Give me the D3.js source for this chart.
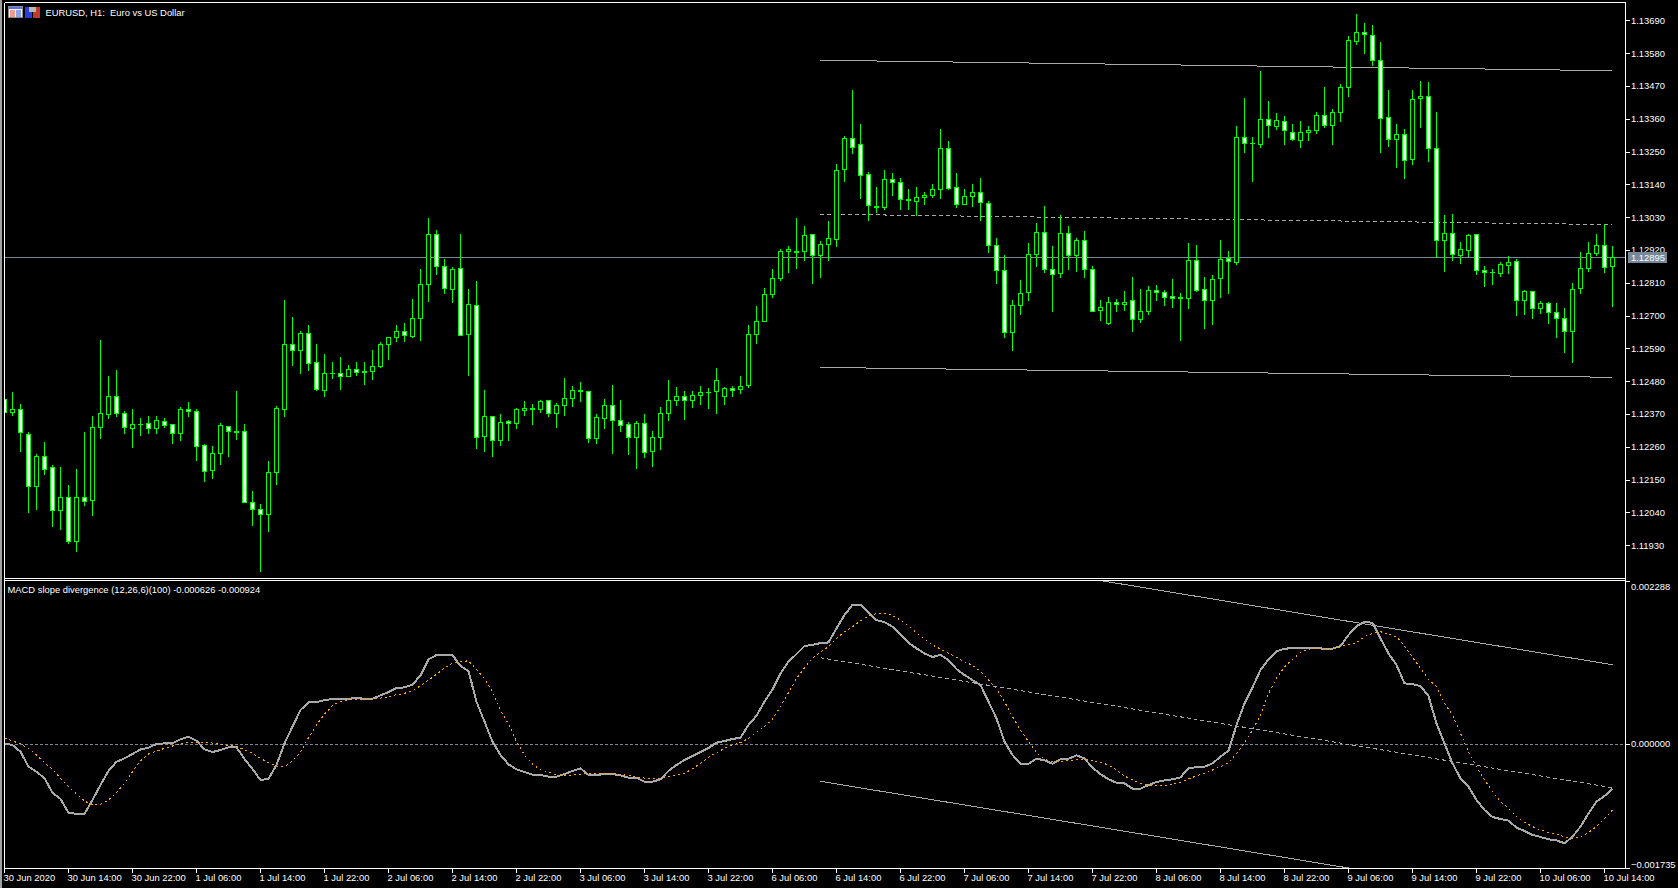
<!DOCTYPE html>
<html><head><meta charset="utf-8">
<script src="https://cdnjs.cloudflare.com/ajax/libs/d3/7.8.5/d3.min.js"></script>
<style>
html,body{margin:0;padding:0;background:#000;overflow:hidden}
svg{display:block}
text{font-family:"Liberation Sans",Arial,sans-serif;font-size:9.4px;fill:#fff}
</style></head><body><svg id="c" width="1678" height="888"></svg>
<script>
const highs=[1.12428,1.12442,1.12403,1.12309,1.12235,1.12275,1.12197,1.12189,1.12130,1.12185,1.12309,1.12360,1.12618,1.12494,1.12517,1.12379,1.12386,1.12356,1.12363,1.12362,1.12356,1.12336,1.12393,1.12407,1.12386,1.12268,1.12261,1.12339,1.12329,1.12447,1.12336,1.12111,1.12068,1.12209,1.12396,1.12749,1.12695,1.12647,1.12668,1.12604,1.12571,1.12544,1.12561,1.12531,1.12541,1.12541,1.12583,1.12610,1.12627,1.12668,1.12672,1.12755,1.12856,1.13027,1.12986,1.12889,1.12862,1.12973,1.12788,1.12815,1.12450,1.12361,1.12369,1.12349,1.12389,1.12413,1.12403,1.12416,1.12416,1.12406,1.12490,1.12463,1.12477,1.12445,1.12369,1.12418,1.12467,1.12416,1.12341,1.12346,1.12369,1.12312,1.12393,1.12483,1.12460,1.12447,1.12447,1.12463,1.12457,1.12524,1.12460,1.12463,1.12494,1.12668,1.12729,1.12792,1.12853,1.12923,1.12933,1.13027,1.13000,1.12972,1.12947,1.13016,1.13205,1.13299,1.13456,1.13339,1.13181,1.13128,1.13188,1.13175,1.13158,1.13124,1.13128,1.13114,1.13141,1.13325,1.13282,1.13175,1.13124,1.13138,1.13161,1.13084,1.12957,1.12900,1.12749,1.12819,1.12943,1.13007,1.13067,1.12930,1.13037,1.13000,1.12960,1.12983,1.12866,1.12752,1.12759,1.12755,1.12779,1.12826,1.12789,1.12796,1.12802,1.12785,1.12822,1.12775,1.12943,1.12936,1.12826,1.12835,1.12953,1.12916,1.13335,1.13429,1.13298,1.13517,1.13419,1.13379,1.13366,1.13339,1.13349,1.13335,1.13382,1.13466,1.13392,1.13476,1.13637,1.13708,1.13678,1.13674,1.13617,1.13453,1.13342,1.13325,1.13453,1.13486,1.13483,1.13382,1.13034,1.13040,1.12946,1.12972,1.12972,1.12866,1.12856,1.12878,1.12898,1.12888,1.12785,1.12781,1.12748,1.12745,1.12742,1.12725,1.12809,1.12913,1.12946,1.12973,1.13006,1.12933];
const opens=[1.12417,1.12374,1.12385,1.12301,1.12127,1.12228,1.12191,1.12047,1.12090,1.11943,1.12090,1.12080,1.12325,1.12369,1.12429,1.12372,1.12322,1.12335,1.12338,1.12322,1.12345,1.12335,1.12305,1.12385,1.12379,1.12265,1.12181,1.12238,1.12328,1.12312,1.12312,1.12073,1.12050,1.12033,1.12174,1.12385,1.12603,1.12583,1.12640,1.12543,1.12449,1.12506,1.12506,1.12496,1.12519,1.12511,1.12513,1.12530,1.12603,1.12627,1.12647,1.12630,1.12690,1.12803,1.12972,1.12865,1.12786,1.12858,1.12635,1.12734,1.12294,1.12361,1.12281,1.12345,1.12338,1.12382,1.12388,1.12385,1.12415,1.12372,1.12398,1.12422,1.12449,1.12445,1.12288,1.12355,1.12398,1.12348,1.12335,1.12291,1.12338,1.12244,1.12291,1.12372,1.12415,1.12429,1.12415,1.12432,1.12442,1.12445,1.12429,1.12456,1.12452,1.12466,1.12637,1.12681,1.12770,1.12825,1.12915,1.12915,1.12915,1.12972,1.12902,1.12939,1.12954,1.13189,1.13294,1.13274,1.13173,1.13066,1.13062,1.13157,1.13147,1.13090,1.13083,1.13096,1.13102,1.13123,1.13261,1.13130,1.13073,1.13100,1.13113,1.13076,1.12935,1.12851,1.12644,1.12734,1.12778,1.12905,1.12979,1.12855,1.12841,1.12976,1.12902,1.12952,1.12855,1.12716,1.12674,1.12744,1.12737,1.12751,1.12687,1.12714,1.12784,1.12778,1.12764,1.12761,1.12758,1.12885,1.12788,1.12751,1.12824,1.12892,1.12878,1.13297,1.13277,1.13274,1.13358,1.13334,1.13351,1.13314,1.13287,1.13314,1.13321,1.13371,1.13338,1.13381,1.13465,1.13619,1.13650,1.13639,1.13556,1.13364,1.13291,1.13307,1.13224,1.13428,1.13435,1.13260,1.12952,1.12975,1.12902,1.12918,1.12972,1.12851,1.12845,1.12841,1.12868,1.12881,1.12751,1.12781,1.12724,1.12741,1.12710,1.12690,1.12647,1.12791,1.12858,1.12908,1.12935,1.12865];
const closes=[1.12374,1.12385,1.12308,1.12127,1.12228,1.12184,1.12047,1.12090,1.11943,1.12090,1.12077,1.12325,1.12372,1.12429,1.12372,1.12325,1.12335,1.12336,1.12322,1.12348,1.12332,1.12305,1.12385,1.12379,1.12261,1.12177,1.12238,1.12332,1.12312,1.12309,1.12073,1.12050,1.12033,1.12174,1.12389,1.12603,1.12583,1.12640,1.12540,1.12452,1.12506,1.12505,1.12496,1.12519,1.12509,1.12509,1.12530,1.12603,1.12627,1.12647,1.12633,1.12691,1.12804,1.12972,1.12863,1.12790,1.12854,1.12633,1.12737,1.12291,1.12361,1.12281,1.12341,1.12338,1.12385,1.12388,1.12385,1.12412,1.12372,1.12398,1.12422,1.12449,1.12446,1.12288,1.12358,1.12398,1.12348,1.12331,1.12291,1.12338,1.12241,1.12291,1.12372,1.12415,1.12429,1.12415,1.12432,1.12442,1.12441,1.12482,1.12456,1.12449,1.12463,1.12637,1.12681,1.12771,1.12825,1.12915,1.12922,1.12912,1.12969,1.12902,1.12939,1.12959,1.13187,1.13294,1.13264,1.13170,1.13069,1.13063,1.13157,1.13147,1.13090,1.13086,1.13096,1.13103,1.13123,1.13261,1.13126,1.13073,1.13100,1.13113,1.13080,1.12935,1.12851,1.12644,1.12734,1.12774,1.12905,1.12979,1.12855,1.12838,1.12976,1.12902,1.12952,1.12855,1.12714,1.12727,1.12744,1.12737,1.12744,1.12687,1.12714,1.12784,1.12778,1.12761,1.12758,1.12758,1.12885,1.12784,1.12751,1.12821,1.12888,1.12881,1.13297,1.13277,1.13276,1.13358,1.13338,1.13354,1.13321,1.13291,1.13314,1.13321,1.13371,1.13338,1.13381,1.13465,1.13623,1.13650,1.13643,1.13556,1.13361,1.13291,1.13307,1.13220,1.13425,1.13435,1.13260,1.12952,1.12975,1.12905,1.12922,1.12969,1.12851,1.12845,1.12844,1.12871,1.12878,1.12751,1.12781,1.12724,1.12741,1.12710,1.12690,1.12647,1.12788,1.12858,1.12908,1.12935,1.12861,1.12895];
const lows=[1.12366,1.12366,1.12243,1.12039,1.12051,1.12168,1.11994,1.11981,1.11937,1.11908,1.12064,1.12031,1.12289,1.12356,1.12360,1.12303,1.12259,1.12299,1.12303,1.12306,1.12323,1.12272,1.12282,1.12360,1.12215,1.12145,1.12152,1.12199,1.12229,1.12286,1.12072,1.11997,1.11843,1.11977,1.12135,1.12360,1.12534,1.12507,1.12517,1.12448,1.12427,1.12490,1.12453,1.12494,1.12500,1.12470,1.12487,1.12526,1.12551,1.12614,1.12614,1.12626,1.12615,1.12748,1.12839,1.12775,1.12745,1.12632,1.12500,1.12255,1.12245,1.12228,1.12265,1.12282,1.12322,1.12366,1.12336,1.12376,1.12363,1.12326,1.12366,1.12396,1.12413,1.12275,1.12272,1.12322,1.12239,1.12312,1.12235,1.12188,1.12225,1.12195,1.12252,1.12349,1.12400,1.12353,1.12393,1.12403,1.12387,1.12373,1.12403,1.12427,1.12440,1.12460,1.12607,1.12680,1.12762,1.12816,1.12846,1.12859,1.12883,1.12806,1.12826,1.12883,1.12933,1.13148,1.13245,1.13091,1.13020,1.13044,1.13057,1.13101,1.13054,1.13054,1.13034,1.13074,1.13097,1.13091,1.13121,1.13061,1.13071,1.13064,1.13020,1.12913,1.12806,1.12628,1.12584,1.12702,1.12749,1.12866,1.12843,1.12712,1.12826,1.12853,1.12849,1.12826,1.12712,1.12682,1.12671,1.12715,1.12718,1.12648,1.12678,1.12705,1.12752,1.12735,1.12728,1.12618,1.12722,1.12779,1.12658,1.12671,1.12759,1.12775,1.12871,1.13248,1.13148,1.13262,1.13298,1.13325,1.13275,1.13288,1.13262,1.13288,1.13312,1.13329,1.13272,1.13352,1.13433,1.13610,1.13580,1.13540,1.13248,1.13268,1.13198,1.13161,1.13208,1.13332,1.13215,1.12896,1.12849,1.12883,1.12876,1.12899,1.12839,1.12799,1.12805,1.12832,1.12842,1.12701,1.12705,1.12691,1.12708,1.12675,1.12628,1.12577,1.12544,1.12775,1.12849,1.12903,1.12846,1.12732];
const macdMain=[0.000012,-0.000011,-0.000105,-0.000315,-0.000385,-0.000478,-0.000679,-0.000768,-0.000959,-0.000978,-0.000978,-0.000782,-0.000572,-0.000375,-0.000245,-0.000198,-0.000137,-0.000072,-0.000049,0.000003,0.000012,0.000012,0.000068,0.000105,0.000049,-0.000072,-0.000109,-0.000081,-0.000044,-0.000044,-0.000207,-0.000347,-0.000501,-0.000487,-0.000291,0.000012,0.000246,0.000479,0.000587,0.000591,0.000619,0.000633,0.000638,0.000638,0.000647,0.000638,0.000638,0.000685,0.000731,0.000787,0.000797,0.000834,0.000965,0.001189,0.001250,0.001250,0.001250,0.001096,0.001026,0.000596,0.000316,0.000035,-0.000151,-0.000282,-0.000352,-0.000389,-0.000427,-0.000431,-0.000455,-0.000455,-0.000418,-0.000375,-0.000338,-0.000431,-0.000431,-0.000418,-0.000418,-0.000436,-0.000469,-0.000469,-0.000525,-0.000525,-0.000492,-0.000375,-0.000291,-0.000221,-0.000165,-0.000109,-0.000053,0.000021,0.000045,0.000073,0.000092,0.000269,0.000400,0.000596,0.000769,0.000993,0.001156,0.001264,0.001376,0.001394,0.001418,0.001427,0.001623,0.001810,0.001955,0.001955,0.001843,0.001740,0.001712,0.001647,0.001539,0.001423,0.001343,0.001273,0.001222,0.001254,0.001180,0.001054,0.000970,0.000899,0.000829,0.000596,0.000362,0.000035,-0.000151,-0.000273,-0.000273,-0.000203,-0.000226,-0.000273,-0.000212,-0.000203,-0.000156,-0.000198,-0.000329,-0.000418,-0.000492,-0.000539,-0.000548,-0.000623,-0.000623,-0.000572,-0.000530,-0.000506,-0.000492,-0.000464,-0.000333,-0.000324,-0.000315,-0.000268,-0.000175,-0.000091,0.000269,0.000573,0.000797,0.001040,0.001189,0.001301,0.001338,0.001348,0.001348,0.001348,0.001348,0.001338,0.001338,0.001376,0.001530,0.001656,0.001712,0.001703,0.001483,0.001273,0.001110,0.000853,0.000843,0.000815,0.000675,0.000292,0.000012,-0.000268,-0.000478,-0.000595,-0.000782,-0.000922,-0.001020,-0.001048,-0.001071,-0.001169,-0.001216,-0.001272,-0.001300,-0.001333,-0.001347,-0.001389,-0.001296,-0.001155,-0.000969,-0.000805,-0.000726,-0.000626];
const macdSignal=[0.000082,0.000049,0.000003,-0.000058,-0.000151,-0.000259,-0.000352,-0.000478,-0.000595,-0.000698,-0.000796,-0.000852,-0.000842,-0.000782,-0.000679,-0.000548,-0.000385,-0.000231,-0.000137,-0.000095,-0.000058,-0.000025,0.000007,0.000026,0.000026,0.000026,0.000017,-0.000002,-0.000016,-0.000025,-0.000081,-0.000128,-0.000198,-0.000259,-0.000305,-0.000315,-0.000231,-0.000109,0.000092,0.000269,0.000423,0.000540,0.000601,0.000619,0.000629,0.000633,0.000633,0.000647,0.000666,0.000694,0.000713,0.000750,0.000820,0.000899,0.000979,0.001072,0.001133,0.001156,0.001170,0.001049,0.000923,0.000736,0.000479,0.000283,0.000035,-0.000151,-0.000277,-0.000361,-0.000389,-0.000431,-0.000441,-0.000431,-0.000418,-0.000413,-0.000413,-0.000413,-0.000413,-0.000422,-0.000441,-0.000455,-0.000474,-0.000483,-0.000478,-0.000455,-0.000436,-0.000408,-0.000343,-0.000268,-0.000184,-0.000119,-0.000058,-0.000011,0.000021,0.000082,0.000166,0.000246,0.000353,0.000526,0.000722,0.000923,0.001072,0.001203,0.001296,0.001366,0.001483,0.001577,0.001647,0.001731,0.001801,0.001829,0.001833,0.001805,0.001740,0.001656,0.001562,0.001474,0.001390,0.001334,0.001273,0.001217,0.001156,0.001105,0.001026,0.000899,0.000783,0.000596,0.000386,0.000199,0.000035,-0.000119,-0.000212,-0.000245,-0.000245,-0.000231,-0.000212,-0.000212,-0.000231,-0.000254,-0.000291,-0.000361,-0.000445,-0.000501,-0.000548,-0.000576,-0.000581,-0.000576,-0.000562,-0.000539,-0.000483,-0.000445,-0.000408,-0.000361,-0.000315,-0.000259,-0.000128,0.000021,0.000199,0.000409,0.000713,0.000923,0.001086,0.001189,0.001287,0.001334,0.001338,0.001338,0.001338,0.001366,0.001399,0.001423,0.001507,0.001553,0.001577,0.001544,0.001507,0.001376,0.001217,0.001063,0.000909,0.000806,0.000573,0.000409,0.000152,-0.000105,-0.000315,-0.000501,-0.000665,-0.000805,-0.000899,-0.001015,-0.001095,-0.001155,-0.001202,-0.001235,-0.001263,-0.001300,-0.001324,-0.001300,-0.001239,-0.001155,-0.001039,-0.000924];
const timeLabels=["30 Jun 2020","30 Jun 14:00","30 Jun 22:00","1 Jul 06:00","1 Jul 14:00","1 Jul 22:00","2 Jul 06:00","2 Jul 14:00","2 Jul 22:00","3 Jul 06:00","3 Jul 14:00","3 Jul 22:00","6 Jul 06:00","6 Jul 14:00","6 Jul 22:00","7 Jul 06:00","7 Jul 14:00","7 Jul 22:00","8 Jul 06:00","8 Jul 14:00","8 Jul 22:00","9 Jul 06:00","9 Jul 14:00","9 Jul 22:00","10 Jul 06:00","10 Jul 14:00"];
const priceTicks=[1.13690,1.13580,1.13470,1.13360,1.13250,1.13140,1.13030,1.12920,1.12810,1.12700,1.12590,1.12480,1.12370,1.12260,1.12150,1.12040,1.11930];
const macdTicks=[0.002288,0,-0.001735];
const bidPrice=1.12895;
const priceChannels=[{i0:102,i1:201,a:1.13556,b:1.13521,dash:null},{i0:102,i1:201,a:1.13040,b:1.13005,dash:"4 3"},{i0:102,i1:201,a:1.12526,b:1.12493,dash:null}];
const macdChannels=[{i0:102,i1:201,a:0.002940,b:0.001114,dash:null},{i0:102,i1:201,a:0.001212,b:-0.000610,dash:"4 3"},{i0:102,i1:201,a:-0.000520,b:-0.002342,dash:null}];

const W=1678,H=888,L=5,R=1625,T=3,MB=578,IT=581,IB=868;
const BAR=8;
const svg=d3.select("#c");
svg.append("rect").attr("width",W).attr("height",H).attr("fill","#000");
svg.append("rect").attr("width",2).attr("height",H).attr("fill","#a0a0a0");

const defs=svg.append("defs");
defs.append("clipPath").attr("id","cm").append("rect").attr("x",L).attr("y",T).attr("width",R-L).attr("height",MB-T);
defs.append("clipPath").attr("id","ci").append("rect").attr("x",L).attr("y",IT).attr("width",R-L).attr("height",IB-IT);

const x=d3.scaleLinear().domain([0,201]).range([4.5,4.5+201*BAR]);
const yP=d3.scaleLinear().domain([1.1182,1.13748]).range([MB,T]);
const yM=d3.scaleLinear().domain([-0.001735,0.002288]).range([IB,IT]);
const snap=v=>Math.round(v-0.5)+0.5;

const main=svg.append("g").attr("clip-path","url(#cm)");
main.append("line").attr("x1",L).attr("x2",R).attr("y1",snap(yP(bidPrice))).attr("y2",snap(yP(bidPrice))).attr("stroke","#778899").attr("shape-rendering","crispEdges");
priceChannels.forEach(c=>{
  main.append("line").attr("x1",x(c.i0)).attr("x2",x(c.i1)).attr("y1",yP(c.a)).attr("y2",yP(c.b))
    .attr("stroke","#a9a9a9").attr("stroke-dasharray",c.dash).attr("shape-rendering","crispEdges");
});
const idx=d3.range(highs.length);
main.selectAll("line.w").data(idx).join("line").attr("class","w")
  .attr("x1",i=>x(i)).attr("x2",i=>x(i)).attr("y1",i=>snap(yP(highs[i]))-0.5).attr("y2",i=>snap(yP(lows[i]))+0.5)
  .attr("stroke","#00ff00").attr("shape-rendering","crispEdges");
main.selectAll("rect.b").data(idx).join("rect").attr("class","b")
  .attr("x",i=>x(i)-2).attr("width",4)
  .attr("y",i=>snap(yP(Math.max(opens[i],closes[i]))))
  .attr("height",i=>Math.max(0.01,snap(yP(Math.min(opens[i],closes[i])))-snap(yP(Math.max(opens[i],closes[i])))))
  .attr("fill",i=>closes[i]<opens[i]?"#fff":"#000").attr("stroke","#00ff00").attr("shape-rendering","crispEdges");

const ind=svg.append("g").attr("clip-path","url(#ci)");
ind.append("line").attr("x1",L).attr("x2",R).attr("y1",snap(yM(0))).attr("y2",snap(yM(0))).attr("stroke","#778899").attr("stroke-dasharray","3 2").attr("shape-rendering","crispEdges");
macdChannels.forEach(c=>{
  ind.append("line").attr("x1",x(c.i0)).attr("x2",x(c.i1)).attr("y1",yM(c.a)).attr("y2",yM(c.b))
    .attr("stroke","#a9a9a9").attr("stroke-dasharray",c.dash).attr("shape-rendering","crispEdges");
});
const ln=d3.line().x((d,i)=>x(i)).y(d=>yM(d));
ind.append("path").attr("d",ln(macdMain)).attr("fill","none").attr("stroke","#a9a9a9").attr("stroke-width",2).attr("shape-rendering","crispEdges");
ind.append("path").attr("d",ln(macdSignal)).attr("fill","none").attr("stroke","#ffa500").attr("stroke-width",1).attr("stroke-dasharray","2 3").attr("shape-rendering","crispEdges");

// frame lines
const fr=[[4.5,2.5,R+.5,2.5],[4.5,2.5,4.5,IB+.5],[R+.5,2.5,R+.5,IB+.5],[4.5,MB+.5,R+.5,MB+.5],[4.5,IT-.5,R+.5,IT-.5],[4.5,IB+.5,R+.5,IB+.5]];
svg.append("g").selectAll("line").data(fr).join("line").attr("x1",d=>d[0]).attr("y1",d=>d[1]).attr("x2",d=>d[2]).attr("y2",d=>d[3]).attr("stroke","#fff").attr("shape-rendering","crispEdges");

// price axis
const axP=svg.append("g").attr("transform",`translate(${R+.5},0)`).call(d3.axisRight(yP).tickValues(priceTicks).tickSize(4).tickPadding(1.5).tickFormat(d3.format(".5f")));
const axI=svg.append("g").attr("transform",`translate(${R+.5},0)`).call(d3.axisRight(yM).tickValues(macdTicks).tickSize(4).tickPadding(1.5).tickFormat(d3.format(".6f")));
[axP,axI].forEach(a=>{
  a.select(".domain").remove();
  a.selectAll("line").attr("stroke","#fff").attr("shape-rendering","crispEdges");
  a.selectAll("text").attr("fill","#fff").attr("font-family",null).attr("font-size",null);
  a.attr("font-family",null).attr("font-size",null);
});
axI.selectAll("text").attr("dy",d=>d===macdTicks[0]?"0.95em":d===macdTicks[2]?"-0.1em":"0.2em");

// bid label
const by=snap(yP(bidPrice));
svg.append("rect").attr("x",R+3).attr("y",by-5.5).attr("width",39).attr("height",11).attr("fill","#778899");
svg.append("text").attr("x",R+6).attr("y",by+3.5).text(d3.format(".5f")(bidPrice));

// time axis
const tickBars=timeLabels.map((d,i)=>i*BAR);
svg.append("g").selectAll("line").data(tickBars).join("line").attr("x1",d=>x(d)).attr("x2",d=>x(d)).attr("y1",IB).attr("y2",IB+5).attr("stroke","#fff").attr("shape-rendering","crispEdges");
svg.append("g").selectAll("text").data(timeLabels).join("text").attr("x",(d,i)=>x(tickBars[i])-1).attr("y",IB+12.5).text(d=>d);

// titles & icons
const icon=svg.append("g").attr("shape-rendering","crispEdges");
icon.append("rect").attr("x",8.5).attr("y",6.5).attr("width",14).attr("height",11).attr("fill","#f4f4ff").attr("stroke","#8a8a8a");
icon.append("rect").attr("x",9).attr("y",7).attr("width",13).attr("height",2).attr("fill","#5a6cf0");
icon.append("rect").attr("x",10).attr("y",10).attr("width",5).attr("height",7).attr("fill","#f09a8a");
icon.append("rect").attr("x",16).attr("y",10).attr("width",5).attr("height",7).attr("fill","#8aa0e8");
icon.append("rect").attr("x",25).attr("y",7).attr("width",7).attr("height",11).attr("fill","#2a3fd8");
icon.append("rect").attr("x",33).attr("y",7).attr("width",7).attr("height",11).attr("fill","#c03a30");
icon.append("rect").attr("x",29).attr("y",7).attr("width",7).attr("height",5).attr("fill","#b8b8b8");
svg.append("text").attr("x",45.5).attr("y",16).text("EURUSD, H1:  Euro vs US Dollar").attr("xml:space","preserve");
svg.append("text").attr("x",7.5).attr("y",593).text("MACD slope divergence (12,26,6)(100) -0.000626 -0.000924");
</script></body></html>
